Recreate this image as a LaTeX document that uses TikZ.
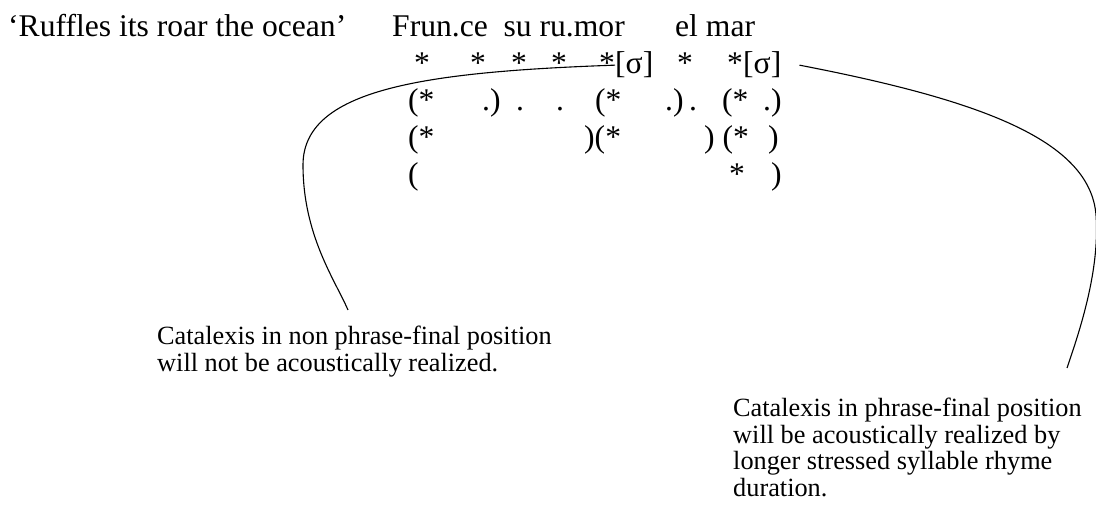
\documentclass[tikz,border=0pt]{standalone}
\usepackage{fontspec}
\setmainfont{Liberation Serif}
\usepackage{tikz}
\usetikzlibrary{positioning}
\tikzset{
	met_txt/.style = {inner sep=0pt, anchor=base west,
		font=\fontsize{31.6}{37}\selectfont},% ligne de texte, grille
	met_sym/.style = {met_txt, anchor=base},% asterisque seul, centre
	note_txt/.style = {inner sep=0pt, anchor=base west, align=left,
		font=\fontsize{26.3}{27}\selectfont},% commentaire (base = derniere ligne)
	link/.style = {draw=black, line width=1.1pt}% courbe
}

\begin{document}
\begin{tikzpicture}[x=1pt, y=-1pt]
\useasboundingbox (0,0) rectangle (1096,510);
% gloss and words
\node [met_txt] (gloss) at (8,37) {‘Ruffles its roar the ocean’};
\node [met_txt] (w1) at (392,37) {Frun.ce\ \ su ru.mor};
\node [met_txt] (w2) at (675,37) {el mar};
% grid, line 1
\foreach \x in {422,478,519,559,607,685,735}
	\node [met_sym] at (\x,74) {*};
\node [met_txt] (sig1) at (615,74) {[σ]};
\node [met_txt] (sig2) at (743,74) {[σ]};
% grid, line 2
\foreach \x/\s in {408/(*, 482/.), 516/., 556/., 595/(*, 665/.), 689/., 722/(*, 763/.)}
	\node [met_txt] at (\x,111) {\s};
% grid, line 3
\foreach \x/\s in {408/(*, 584/)(*, 704/{)\ (*}, 768/)}
	\node [met_txt] at (\x,148) {\s};
% grid, line 4
\node [met_txt] at (408,185) {(};
\node [met_sym] at (737,185) {*};
\node [met_txt] at (771,185) {)};
% notes
\node [note_txt] (nl) at (157,372) {Catalexis in non phrase-final position\\
	will not be acoustically realized.};
\node [note_txt] (nr) at (733,497) {Catalexis in phrase-final position\\
	will be acoustically realized by\\
	longer stressed syllable rhyme\\
	duration.};
\coordinate (el) at (348,310);
\coordinate (er) at (1067,368);
\draw [link] (sig1.west) .. controls (420,72) and (303,90) .. (303,165)
	.. controls (303,235) and (335,280) .. (el);
\draw [link] ([xshift=18pt]sig2.east) .. controls (980,100) and (1090,140) .. (1096,215)
	.. controls (1100,270) and (1080,330) .. (er);
\end{tikzpicture}
\end{document}
